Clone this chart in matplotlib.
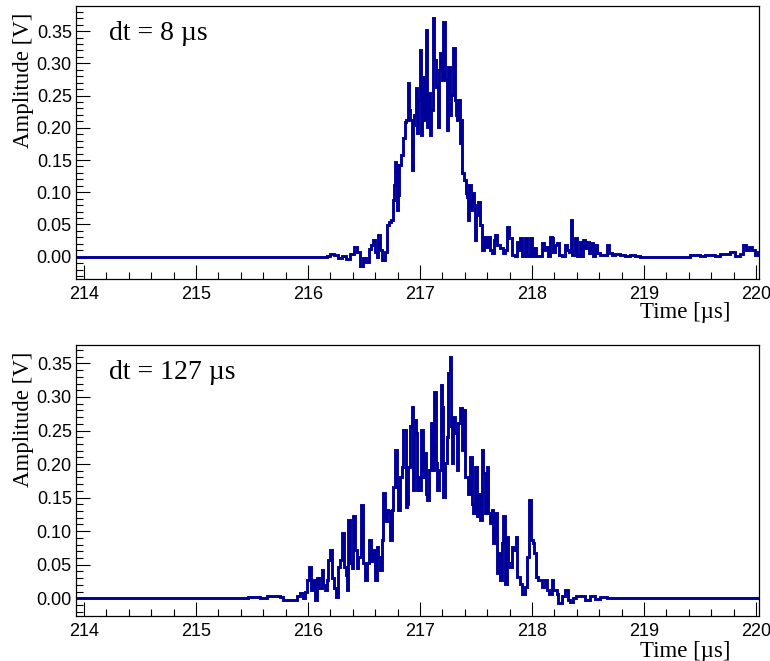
import matplotlib
matplotlib.use("Agg")
import matplotlib.pyplot as plt
from matplotlib.ticker import MultipleLocator, FormatStrFormatter

# ---------------- data (time in us, amplitude in V) ----------------
top_label = "dt = 8 \u00b5s"
bottom_label = "dt = 127 \u00b5s"
x_label = "Time [\u00b5s]"
y_label = "Amplitude [V]"

top_time = [
    213.900, 216.170, 216.196, 216.232, 216.268, 216.304, 216.339, 216.375, 216.411, 216.438,
    216.464, 216.491, 216.518, 216.545, 216.563, 216.580, 216.598, 216.616, 216.625, 216.643,
    216.661, 216.688, 216.705, 216.723, 216.741, 216.759, 216.768, 216.777, 216.786, 216.795,
    216.804, 216.813, 216.830, 216.848, 216.866, 216.875, 216.893, 216.902, 216.911, 216.929,
    216.938, 216.946, 216.964, 216.973, 216.982, 217.000, 217.009, 217.018, 217.027, 217.036,
    217.054, 217.063, 217.071, 217.089, 217.098, 217.116, 217.125, 217.143, 217.161, 217.170,
    217.179, 217.196, 217.205, 217.223, 217.241, 217.250, 217.268, 217.277, 217.295, 217.313,
    217.321, 217.330, 217.339, 217.357, 217.366, 217.375, 217.393, 217.411, 217.420, 217.429,
    217.438, 217.455, 217.464, 217.482, 217.491, 217.500, 217.518, 217.536, 217.554, 217.571,
    217.589, 217.607, 217.625, 217.643, 217.661, 217.670, 217.688, 217.714, 217.741, 217.759,
    217.777, 217.795, 217.821, 217.848, 217.866, 217.875, 217.893, 217.911, 217.938, 217.955,
    217.982, 218.000, 218.018, 218.036, 218.063, 218.089, 218.107, 218.125, 218.143, 218.161,
    218.179, 218.188, 218.205, 218.223, 218.241, 218.268, 218.295, 218.313, 218.330, 218.348,
    218.357, 218.384, 218.402, 218.429, 218.446, 218.455, 218.473, 218.491, 218.509, 218.527,
    218.545, 218.563, 218.580, 218.607, 218.634, 218.670, 218.688, 218.714, 218.741, 218.786,
    218.830, 218.875, 218.920, 218.964, 219.411, 219.500, 219.545, 219.634, 219.679, 219.768,
    219.813, 219.857, 219.884, 219.911, 219.938, 219.964, 219.991, 220.018, 220.050,
]
top_amp = [
    0.000, 0.001, 0.004, 0.003, -0.002, 0.001, -0.004, 0.004, 0.015, 0.007,
    -0.015, -0.002, -0.008, 0.012, 0.018, 0.026, 0.007, 0.000, 0.034, 0.010,
    -0.005, 0.007, 0.049, 0.054, 0.057, 0.088, 0.111, 0.147, 0.142, 0.072,
    0.096, 0.142, 0.158, 0.184, 0.209, 0.212, 0.270, 0.228, 0.212, 0.135,
    0.204, 0.220, 0.262, 0.192, 0.243, 0.321, 0.189, 0.235, 0.279, 0.212,
    0.352, 0.201, 0.254, 0.189, 0.228, 0.371, 0.305, 0.263, 0.201, 0.290,
    0.316, 0.274, 0.364, 0.274, 0.196, 0.294, 0.220, 0.251, 0.324, 0.243,
    0.220, 0.212, 0.243, 0.176, 0.212, 0.130, 0.119, 0.099, 0.092, 0.057,
    0.111, 0.072, 0.099, 0.080, 0.026, 0.065, 0.085, 0.049, 0.010, 0.031,
    0.015, 0.031, 0.010, 0.006, 0.026, 0.034, 0.018, 0.014, 0.006, 0.010,
    0.046, 0.029, 0.003, 0.001, 0.023, 0.010, 0.029, 0.001, 0.029, 0.001,
    0.029, 0.001, 0.014, 0.001, 0.001, 0.021, 0.010, 0.015, 0.001, 0.031,
    0.029, 0.007, 0.018, 0.021, 0.003, 0.001, 0.018, 0.010, 0.007, 0.057,
    0.003, 0.029, 0.001, 0.023, 0.001, 0.026, 0.014, 0.023, 0.006, 0.021,
    0.001, 0.018, 0.006, 0.003, 0.003, 0.018, 0.006, 0.003, 0.004, 0.003,
    0.001, 0.003, 0.001, 0.000, 0.003, 0.001, 0.003, 0.001, 0.004, 0.007,
    0.001, 0.004, 0.018, 0.010, 0.015, 0.010, 0.003, 0.007, 0.007,
]

bottom_time = [
    213.900, 215.464, 215.571, 215.634, 215.750, 215.777, 215.839, 215.902, 215.929, 215.955,
    215.973, 215.991, 216.009, 216.027, 216.045, 216.063, 216.080, 216.098, 216.125, 216.134,
    216.152, 216.170, 216.179, 216.196, 216.214, 216.232, 216.250, 216.268, 216.286, 216.304,
    216.321, 216.339, 216.348, 216.357, 216.375, 216.393, 216.402, 216.420, 216.438, 216.446,
    216.473, 216.491, 216.509, 216.527, 216.545, 216.563, 216.580, 216.598, 216.616, 216.625,
    216.643, 216.661, 216.670, 216.688, 216.705, 216.714, 216.732, 216.750, 216.759, 216.777,
    216.795, 216.804, 216.821, 216.839, 216.848, 216.866, 216.875, 216.884, 216.893, 216.911,
    216.929, 216.938, 216.946, 216.964, 216.973, 216.982, 216.991, 217.009, 217.027, 217.036,
    217.054, 217.063, 217.080, 217.098, 217.116, 217.125, 217.143, 217.152, 217.170, 217.188,
    217.196, 217.205, 217.223, 217.241, 217.250, 217.268, 217.277, 217.286, 217.295, 217.313,
    217.330, 217.339, 217.357, 217.375, 217.384, 217.402, 217.420, 217.429, 217.446, 217.464,
    217.473, 217.491, 217.509, 217.518, 217.536, 217.554, 217.563, 217.580, 217.598, 217.607,
    217.625, 217.643, 217.652, 217.670, 217.688, 217.696, 217.714, 217.732, 217.741, 217.759,
    217.777, 217.786, 217.804, 217.821, 217.830, 217.857, 217.866, 217.893, 217.911, 217.938,
    217.955, 217.973, 217.991, 218.009, 218.018, 218.036, 218.054, 218.089, 218.116, 218.134,
    218.152, 218.179, 218.188, 218.223, 218.232, 218.268, 218.295, 218.321, 218.339, 218.366,
    218.393, 218.429, 218.473, 218.518, 218.563, 218.607, 218.670, 218.723, 220.050,
]
bottom_amp = [
    0.000, 0.002, 0.001, 0.003, 0.002, -0.003, -0.002, 0.003, 0.008, 0.000,
    0.010, 0.027, 0.047, 0.012, 0.027, -0.002, 0.030, 0.015, 0.042, 0.020,
    0.012, 0.027, 0.057, 0.072, 0.030, 0.015, 0.002, 0.047, 0.057, 0.097,
    0.047, 0.035, 0.012, 0.117, 0.052, 0.045, 0.122, 0.072, 0.045, 0.062,
    0.139, 0.052, 0.027, 0.052, 0.087, 0.055, 0.072, 0.027, 0.077, 0.062,
    0.042, 0.087, 0.157, 0.115, 0.132, 0.130, 0.087, 0.132, 0.166, 0.221,
    0.166, 0.132, 0.181, 0.196, 0.251, 0.251, 0.136, 0.141, 0.196, 0.256,
    0.285, 0.161, 0.266, 0.246, 0.161, 0.181, 0.161, 0.251, 0.181, 0.216,
    0.156, 0.146, 0.191, 0.261, 0.191, 0.308, 0.201, 0.161, 0.191, 0.318,
    0.285, 0.151, 0.201, 0.241, 0.335, 0.360, 0.256, 0.201, 0.270, 0.246,
    0.191, 0.261, 0.283, 0.221, 0.280, 0.181, 0.181, 0.156, 0.211, 0.141,
    0.127, 0.196, 0.122, 0.156, 0.117, 0.221, 0.186, 0.127, 0.196, 0.127,
    0.112, 0.132, 0.082, 0.127, 0.037, 0.067, 0.027, 0.082, 0.122, 0.022,
    0.092, 0.052, 0.047, 0.077, 0.072, 0.092, 0.032, 0.022, 0.007, 0.017,
    0.062, 0.146, 0.087, 0.082, 0.067, 0.032, 0.027, 0.017, 0.027, 0.012,
    0.007, 0.027, 0.012, 0.007, -0.007, 0.004, 0.012, -0.003, -0.005, 0.000,
    0.004, 0.004, -0.003, 0.003, -0.001, 0.002, 0.000, 0.000, 0.000,
]

# ---------------- styling ----------------
LINE_COLOR = "#000099"
SANS = ["Liberation Sans", "DejaVu Sans"]
SERIF = ["Liberation Serif", "DejaVu Serif"]

fig = plt.figure(figsize=(7.7, 6.61), dpi=100)
fig.patch.set_facecolor("white")

W, H = 770.0, 661.0
panels = [
    dict(rect=[76 / W, 1 - 279 / H, (759 - 76) / W, (279 - 6) / H],
         t=top_time, v=top_amp, label=top_label, ylim=(-0.0346, 0.389),
         ylab_top=13, xlab_base=318, lab_base=40),
    dict(rect=[76 / W, 1 - 616 / H, (759 - 76) / W, (616 - 345.3) / H],
         t=bottom_time, v=bottom_amp, label=bottom_label, ylim=(-0.0264, 0.377),
         ylab_top=352, xlab_base=657, lab_base=379),
]

for p in panels:
    ax = fig.add_axes(p["rect"])
    ax.plot(p["t"], p["v"], drawstyle="steps-post", color=LINE_COLOR,
            linewidth=2.1, solid_joinstyle="miter")
    ax.set_xlim(213.929, 220.027)
    ax.set_ylim(*p["ylim"])

    ax.xaxis.set_major_locator(MultipleLocator(1))
    ax.xaxis.set_minor_locator(MultipleLocator(0.2))
    ax.yaxis.set_major_locator(MultipleLocator(0.05))
    ax.yaxis.set_minor_locator(MultipleLocator(0.01))
    ax.yaxis.set_major_formatter(FormatStrFormatter("%.2f"))

    ax.tick_params(axis="both", which="both", direction="in",
                   top=False, right=False, color="black", width=0.8)
    ax.tick_params(axis="y", which="major", length=10, pad=3)
    ax.tick_params(axis="y", which="minor", length=5)
    ax.tick_params(axis="x", which="major", length=10, pad=5)
    ax.tick_params(axis="x", which="minor", length=5)
    for lab in ax.get_xticklabels() + ax.get_yticklabels():
        lab.set_fontfamily(SANS)
        lab.set_fontsize(13)
    for s in ax.spines.values():
        s.set_linewidth(0.9)
        s.set_color("black")

    # in-panel annotation
    fig.text(109 / W, 1 - p["lab_base"] / H, p["label"], family=SERIF,
             fontsize=20, ha="left", va="baseline")
    # axis titles
    fig.text(730 / W, 1 - p["xlab_base"] / H, x_label, family=SERIF,
             fontsize=16.5, ha="right", va="baseline")
    fig.text(23 / W, 1 - p["ylab_top"] / H, y_label, family=SERIF,
             fontsize=16.5, rotation=90, ha="center", va="top")

fig.savefig("out.png", dpi=100, facecolor="white")
